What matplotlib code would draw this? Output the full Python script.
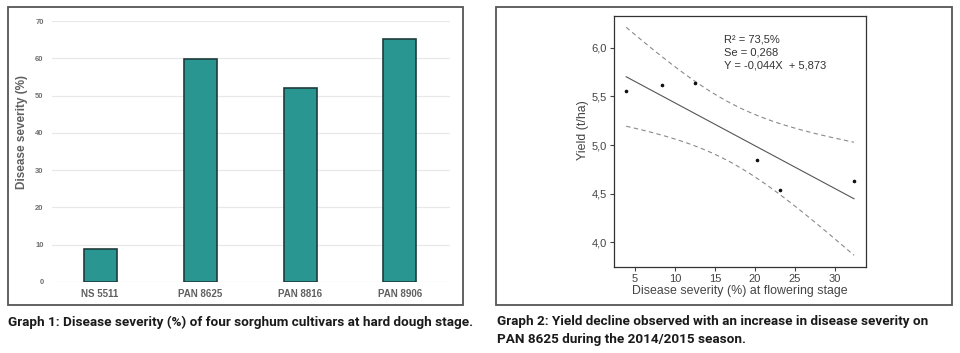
import matplotlib
matplotlib.use("Agg")
import matplotlib.pyplot as plt
from matplotlib.patches import Rectangle
import numpy as np

# ---- Data: Graph 1 ----
cultivars = ["NS 5511", "PAN 8625", "PAN 8816", "PAN 8906"]
severity = [8.9, 59.8, 52.0, 65.3]
sev_ticks = [0, 10, 20, 30, 40, 50, 60, 70]

# ---- Data: Graph 2 ----
sev_flower = [3.9, 8.4, 12.5, 20.3, 23.1, 32.4]
yield_tha = [5.55, 5.62, 5.64, 4.85, 4.54, 4.63]
slope = -0.044
intercept = 5.873
se_est = 0.268
t_crit = 2.776  # t(0.975, df=4)
x_ticks2 = [5, 10, 15, 20, 25, 30]
y_ticks2 = [4.0, 4.5, 5.0, 5.5, 6.0]
ann_lines = ["R² = 73,5%", "Se = 0,268", "Y = -0,044X  + 5,873"]

W, H = 960, 353
fig = plt.figure(figsize=(W / 100, H / 100), dpi=100)

def fx(px):
    return px / W

def fy(py):
    return 1 - py / H

def add_axes_px(l, t, r, b):
    return fig.add_axes([fx(l), fy(b), (r - l) / W, (b - t) / H])

# panel frames
for (l, t, r, b) in [(8, 7, 463, 305), (496, 7, 952, 305)]:
    fig.patches.append(Rectangle((fx(l), fy(b)), (r - l) / W, (b - t) / H,
                                 transform=fig.transFigure, fill=False,
                                 edgecolor="#555555", linewidth=1.3))

# ---- Graph 1 ----
ax1 = add_axes_px(52, 21, 450, 282)
xs = np.arange(len(cultivars))
ax1.bar(xs, severity, width=0.33, color="#2a9692", edgecolor="#1e3c3c",
        linewidth=1.2, zorder=3)
ax1.set_xlim(-0.48, 3.5)
ax1.set_ylim(0, 70)
ax1.set_yticks(sev_ticks)
ax1.set_yticklabels([str(v) for v in sev_ticks], fontsize=5.5,
                    fontweight="bold", color="#707070", family="Liberation Sans")
ax1.set_xticks(xs)
ax1.set_xticklabels(cultivars, fontsize=7, fontweight="bold", color="#606060",
                    family="Liberation Sans")
ax1.tick_params(axis="both", length=0)
ax1.tick_params(axis="y", pad=6)
ax1.tick_params(axis="x", pad=5)
ax1.grid(axis="y", color="#e8e8e8", linewidth=0.9, zorder=0)
for s in ax1.spines.values():
    s.set_visible(False)
ax1.set_ylabel("Disease severity (%)", fontsize=8.5, fontweight="bold",
               color="#606060", family="Liberation Sans")
ax1.yaxis.set_label_coords(-0.06, 0.575)

# ---- Graph 2 ----
ax2 = add_axes_px(614, 16, 866, 267)
xarr = np.array(sev_flower)
yarr = np.array(yield_tha)
xl = np.linspace(xarr.min(), xarr.max(), 100)
yl = slope * xl + intercept
ax2.plot(xl, yl, color="#555555", linewidth=0.8)
xbar = xarr.mean()
sxx = ((xarr - xbar) ** 2).sum()
hw = t_crit * se_est * np.sqrt(1 / len(xarr) + (xl - xbar) ** 2 / sxx)
ax2.plot(xl, yl + hw, color="#8a8a8a", linewidth=0.8, dashes=(4, 3))
ax2.plot(xl, yl - hw, color="#8a8a8a", linewidth=0.8, dashes=(4, 3))
ax2.plot(xarr, yarr, "o", color="#111111", markersize=1.6)
ax2.set_xlim(2.375, 33.9)
ax2.set_ylim(3.746, 6.326)
ax2.set_xticks(x_ticks2)
ax2.set_xticklabels([str(v) for v in x_ticks2], fontsize=8, color="#444444",
                    family="Liberation Sans")
ax2.set_yticks(y_ticks2)
ax2.set_yticklabels([f"{v:.1f}".replace(".", ",") for v in y_ticks2],
                    fontsize=8, color="#444444", family="Liberation Sans")
ax2.tick_params(axis="both", length=3, width=0.8, color="#444444", pad=2)
for s in ax2.spines.values():
    s.set_color("#333333")
    s.set_linewidth(0.9)
ax2.set_xlabel("Disease severity (%) at flowering stage", fontsize=8.9,
               color="#444444", family="Liberation Sans", labelpad=1)
ax2.set_ylabel("Yield (t/ha)", fontsize=8.9, color="#444444",
               family="Liberation Sans")
ax2.yaxis.set_label_coords(-0.10, 0.546)
for txt, yy in zip(ann_lines, [0.908, 0.853, 0.801]):
    ax2.text(0.437, yy, txt, transform=ax2.transAxes, fontsize=8,
             color="#333333", family=["Liberation Sans", "DejaVu Sans"],
             va="center", ha="left")

# ---- captions ----
cap_font = ["Roboto", "DejaVu Sans"]
cap_kw = dict(fontsize=9.7, fontweight="bold", family=cap_font, va="center",
              color="#1a1a1a")
fig.text(fx(8), fy(322), "Graph 1: Disease severity (%) of four sorghum cultivars at hard dough stage.",
         **cap_kw)
fig.text(fx(497), fy(322), "Graph 2: Yield decline observed with an increase in disease severity on",
         **cap_kw)
fig.text(fx(497), fy(340), "PAN 8625 during the 2014/2015 season.", **cap_kw)

fig.savefig("out.png", dpi=100)
